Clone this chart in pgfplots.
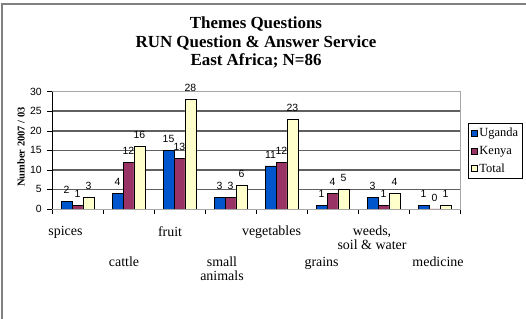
\documentclass[border=0pt]{standalone}
\usepackage{fontspec}
\setmainfont{Liberation Serif}
\setsansfont{Liberation Sans}
\usepackage{pgfplots}
\pgfplotsset{compat=1.18}
\definecolor{uganda}{HTML}{0055CC}
\definecolor{kenya}{HTML}{993366}
\definecolor{total}{HTML}{FFFFCC}
\definecolor{gridc}{HTML}{606060}
\definecolor{framec}{HTML}{808080}
\definecolor{borderc}{HTML}{A6A6A6}
\begin{document}
\begin{tikzpicture}
\useasboundingbox (0,0) rectangle (526bp,319bp);
\draw[framec, line width=2bp] (2bp,0) -- (2bp,315bp) -- (526bp,315bp);
\node[anchor=north, align=center, inner sep=0pt, font=\bfseries\fontsize{17}{18.5}\selectfont] at (256bp,302bp) {Themes Questions\\RUN Question \& Answer Service\\East Africa; N=86};
\node[rotate=90, inner sep=0pt, font=\bfseries\fontsize{10.5}{12}\selectfont] at (21bp,172bp) {Number 2007 / 03};
\begin{axis}[
 at={(52bp,110bp)}, anchor=south west, scale only axis,
 width=408bp, height=117.3bp,
 xmin=-0.5, xmax=7.5, ymin=0, ymax=30,
 axis line style={draw=borderc, line width=0.8bp},
 tick align=outside, major tick length=0pt, minor tick length=5bp,
 tick style={black, line width=0.6bp},
 xtick pos=left, ytick pos=left,
 ytick={0,5,...,30}, minor ytick={0,5,...,30},
 yticklabel style={font=\sffamily\fontsize{10.5}{12}\selectfont, inner sep=0pt, xshift=-10bp},
 /pgf/number format/assume math mode=true,
 xtick={-0.235,1.814,3.804,5.775},
 xticklabels={spices,fruit,vegetables,{weeds,\\soil \& water}},
 minor xtick={-0.5,0.5,...,7.5},
 extra x ticks={0.912,2.833,4.786,7.069},
 extra x tick labels={cattle,{small\\animals},grains,medicine},
 extra x tick style={xticklabel style={yshift=-30.7bp}},
 xticklabel style={font=\fontsize{14}{14}\selectfont, align=center, anchor=north, inner sep=0pt, yshift=-17bp},
 extra y ticks={5,10,15,20,25}, extra y tick labels={},
 extra y tick style={grid=major, major grid style={draw=gridc, line width=1.6bp}},
 ybar, bar width=0.215,
 nodes near coords,
 every node near coord/.append style={font=\sffamily\fontsize{10.5}{12}\selectfont, inner sep=0pt, anchor=south, yshift=7.5bp, black},
 legend style={at={(1.0196,0.733)}, anchor=north west, draw=black, line width=0.8bp, fill=white,
   font=\fontsize{12.5}{14}\selectfont, inner xsep=2.5bp, inner ysep=2.5bp, row sep=4bp},
 legend cell align=left,
 legend image code/.code={\draw[#1, line width=0.6bp] (0bp,-3bp) rectangle (6bp,3bp);},
]
\addplot[fill=uganda, draw=black, line width=0.6bp, bar shift=-0.215] coordinates {(0,2) (1,4) (2,15) (3,3) (4,11) (5,1) (6,3) (7,1)};
\addplot[fill=kenya, draw=black, line width=0.6bp, bar shift=0] coordinates {(0,1) (1,12) (2,13) (3,3) (4,12) (5,4) (6,1) (7,0)};
\addplot[fill=total, draw=black, line width=0.6bp, bar shift=0.215] coordinates {(0,3) (1,16) (2,28) (3,6) (4,23) (5,5) (6,4) (7,1)};
\legend{Uganda,Kenya,Total}
\draw[black, line width=0.8bp] (rel axis cs:0,1) -- (rel axis cs:0,0) -- (rel axis cs:1,0);
\end{axis}
\end{tikzpicture}
\end{document}
